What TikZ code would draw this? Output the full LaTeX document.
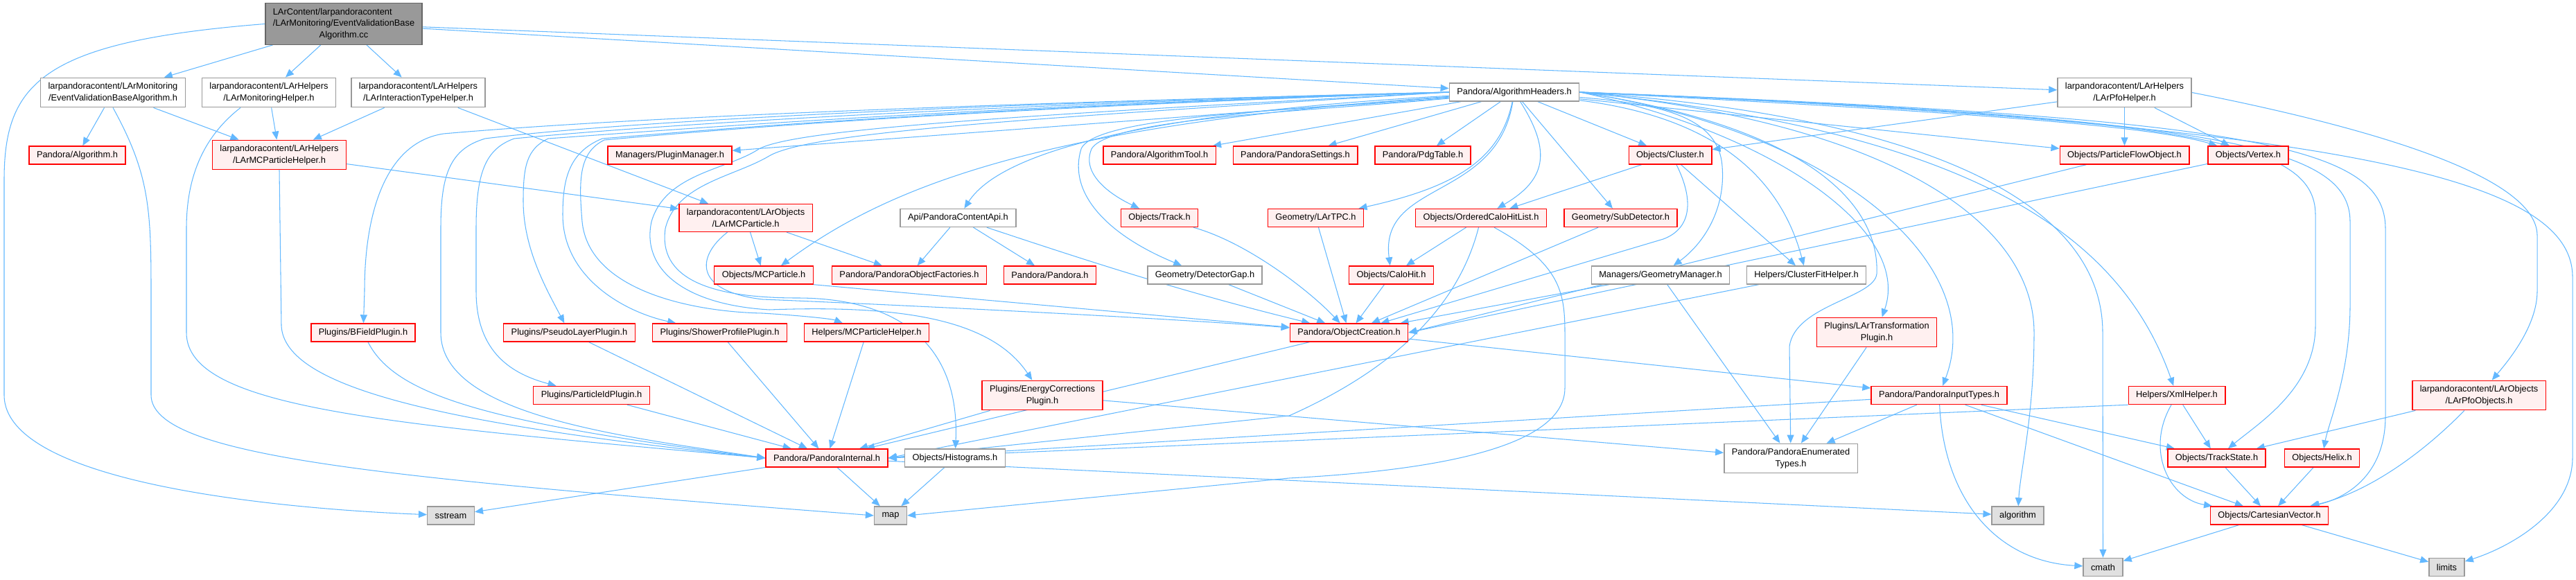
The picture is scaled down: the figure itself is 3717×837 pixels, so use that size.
\documentclass[tikz,border=0pt]{standalone}
\usepackage{fontspec}
\setmainfont{Liberation Sans}
\usetikzlibrary{arrows.meta,backgrounds}
\definecolor{edgeblue}{HTML}{63B8FF}
\definecolor{boxred}{HTML}{FF0000}
\definecolor{boxpink}{HTML}{FFF0F0}
\definecolor{boxgray}{HTML}{999999}
\definecolor{extgray}{HTML}{E0E0E0}
\definecolor{rootgray}{HTML}{999999}
\definecolor{rootedge}{HTML}{666666}

\begin{document}
\begin{tikzpicture}[x=0.02cm, y=-0.02cm,
	every node/.style={font=\fontsize{7.3}{9.4}\selectfont, inner xsep=0.22cm, inner ysep=0.14cm, minimum height=0.52cm, align=center, line width=0.8pt},
	redbox/.style={draw=boxred, fill=boxpink},
	plainbox/.style={draw=boxgray, fill=white},
	extbox/.style={draw=boxgray, fill=extgray},
	rootbox/.style={draw=rootedge, fill=rootgray, inner ysep=0.1cm},
	dep/.style={draw=edgeblue, line width=0.6pt, -{Triangle[length=0.24cm, width=0.2cm]}}]
	\useasboundingbox (0,0) rectangle (3717,837);
	\node[rootbox] (main) at (496,34.5) {\begin{tabular}{@{}l@{}}LArContent/larpandoracontent\\/LArMonitoring/EventValidationBase\\\multicolumn{1}{@{}c@{}}{Algorithm.cc}\end{tabular}};
	\node[plainbox] (evba) at (163,133.5) {larpandoracontent/LArMonitoring\\/EventValidationBaseAlgorithm.h};
	\node[plainbox] (monh) at (388,133.5) {larpandoracontent/LArHelpers\\/LArMonitoringHelper.h};
	\node[plainbox] (ith) at (603.5,133.5) {larpandoracontent/LArHelpers\\/LArInteractionTypeHelper.h};
	\node[redbox] (alg) at (111.5,224) {Pandora/Algorithm.h};
	\node[redbox] (mcph) at (403,223.5) {larpandoracontent/LArHelpers\\/LArMCParticleHelper.h};
	\node[redbox] (bfield) at (524,480) {Plugins/BFieldPlugin.h};
	\node[extbox] (sstream) at (650.5,744) {sstream};
	\node[redbox] (plugman) at (966.5,224) {Managers/PluginManager.h};
	\node[redbox] (larmcp) at (1076,314.5) {larpandoracontent/LArObjects\\/LArMCParticle.h};
	\node[redbox] (mcp) at (1102,397) {Objects/MCParticle.h};
	\node[redbox] (pof) at (1312,397) {Pandora/PandoraObjectFactories.h};
	\node[redbox] (pseudo) at (821.5,480) {Plugins/PseudoLayerPlugin.h};
	\node[redbox] (shower) at (1038.5,480) {Plugins/ShowerProfilePlugin.h};
	\node[redbox] (mcph2) at (1250.5,480) {Helpers/MCParticleHelper.h};
	\node[redbox] (pid) at (853.5,570.5) {Plugins/ParticleIdPlugin.h};
	\node[redbox] (pint) at (1193,661) {Pandora/PandoraInternal.h};
	\node[redbox] (algtool) at (1673,224) {Pandora/AlgorithmTool.h};
	\node[redbox] (settings) at (1869,224) {Pandora/PandoraSettings.h};
	\node[plainbox] (api) at (1382.5,314.5) {Api/PandoraContentApi.h};
	\node[redbox] (track) at (1673,314.5) {Objects/Track.h};
	\node[redbox] (tpc) at (1898.5,314.5) {Geometry/LArTPC.h};
	\node[redbox] (pandora) at (1515,397) {Pandora/Pandora.h};
	\node[plainbox] (gap) at (1738.5,397) {Geometry/DetectorGap.h};
	\node[redbox] (ecorr) at (1504,570.5) {Plugins/EnergyCorrections\\Plugin.h};
	\node[plainbox] (hist) at (1378,661) {Objects/Histograms.h};
	\node[extbox] (map) at (1285,744) {map};
	\node[redbox] (objcr) at (1946.5,480) {Pandora/ObjectCreation.h};
	\node[plainbox] (ah) at (2185,133) {Pandora/AlgorithmHeaders.h};
	\node[redbox] (pdg) at (2053,224) {Pandora/PdgTable.h};
	\node[redbox] (cluster) at (2410,224) {Objects/Cluster.h};
	\node[redbox] (ochl) at (2137,314.5) {Objects/OrderedCaloHitList.h};
	\node[redbox] (subdet) at (2338.5,314.5) {Geometry/SubDetector.h};
	\node[redbox] (calohit) at (2007.5,397) {Objects/CaloHit.h};
	\node[plainbox] (geoman) at (2396,397) {Managers/GeometryManager.h};
	\node[plainbox] (enumt) at (2584,661.5) {Pandora/PandoraEnumerated\\Types.h};
	\node[plainbox] (pfohelp) at (3065.5,133.5) {larpandoracontent/LArHelpers\\/LArPfoHelper.h};
	\node[redbox] (pfo) at (3065.5,224) {Objects/ParticleFlowObject.h};
	\node[plainbox] (cfh) at (2606.5,397) {Helpers/ClusterFitHelper.h};
	\node[redbox] (lartrans) at (2708,479.5) {Plugins/LArTransformation\\Plugin.h};
	\node[redbox] (pit) at (2798,570.5) {Pandora/PandoraInputTypes.h};
	\node[extbox] (algo) at (2911.5,744) {algorithm};
	\node[extbox] (cmath) at (3034.5,818.5) {cmath};
	\node[redbox] (xml) at (3141,570.5) {Helpers/XmlHelper.h};
	\node[redbox] (vertex) at (3244,224) {Objects/Vertex.h};
	\node[redbox] (pfoobj) at (3577,570.5) {larpandoracontent/LArObjects\\/LArPfoObjects.h};
	\node[redbox] (trackstate) at (3198.5,661) {Objects/TrackState.h};
	\node[redbox] (helix) at (3350.5,661) {Objects/Helix.h};
	\node[redbox] (cv) at (3274.5,744) {Objects/CartesianVector.h};
	\node[extbox] (limits) at (3530.5,818.5) {limits};

	\begin{scope}[on background layer]
	\draw[dep] (main) -- (evba);
	\draw[dep] (main) -- (monh);
	\draw[dep] (main) -- (ith);
	\draw[dep] (main) -- (ah);
	\draw[dep] (main) -- (pfohelp);
	\draw[dep] (main.west) .. controls (60,60) and (6,120) .. (6,260) -- (6,570) .. controls (6,700) and (420,735) .. (sstream);
	\draw[dep] (evba) -- (alg);
	\draw[dep] (evba) -- (mcph);
	\draw[dep] (evba.south) .. controls (215,250) and (218,300) .. (218,420) -- (218,570) .. controls (218,660) and (560,690) .. (map.west);
	\draw[dep] (monh) -- (mcph);
	\draw[dep] ([xshift=-0.82cm]monh.south) .. controls (290,200) and (269,260) .. (269,330) -- (269,480) .. controls (269,590) and (560,612) .. (pint.west);
	\draw[dep] (ith) -- (mcph);
	\draw[dep] (ith) -- (larmcp);
	\draw[dep] (mcph) -- (larmcp);
	\draw[dep] (mcph.south) -- (406,470) .. controls (410,560) and (640,612) .. (pint.west);
	\draw[dep] (larmcp) -- (mcp);
	\draw[dep] (larmcp) -- (pof);
	\draw[dep] (larmcp) .. controls (1005,370) and (1000,420) .. (1100,432) .. controls (1300,440) and (1700,460) .. (objcr);
	\draw[dep] (mcp.south east) -- (objcr);
	\draw[dep] (api) -- (pof);
	\draw[dep] (api) -- (pandora);
	\draw[dep] (api) .. controls (1550,370) and (1700,420) .. (objcr);
	\draw[dep] (bfield) .. controls (570,570) and (700,610) .. (pint.west);
	\draw[dep] (pseudo) -- (pint);
	\draw[dep] (shower) -- (pint);
	\draw[dep] (pid) -- (pint);
	\draw[dep] (mcph2) -- (pint);
	\draw[dep] (ecorr) -- (pint);
	\draw[dep] (ecorr) -- (enumt);
	\draw[dep] (hist) -- (map);
	\draw[dep] (pint) -- (sstream);
	\draw[dep] (pint) -- (map);
	\draw[dep] (pint) -- (algo);
	\draw[dep] (objcr) -- (pint);
	\draw[dep] (objcr) -- (pit);
	\draw[dep] (track) .. controls (1800,350) and (1890,420) .. (objcr);
	\draw[dep] (gap) -- (objcr);
	\draw[dep] (tpc) -- (objcr);
	\draw[dep] (calohit) -- (objcr);
	\draw[dep] (subdet) -- (objcr);
	\draw[dep] ([xshift=0.18cm]cluster.south) .. controls (2445,290) and (2440,330) .. (2400,345) -- (objcr);
	\draw[dep] (geoman) -- (objcr);
	\draw[dep] (pfo) -- (objcr.east);
	\draw[dep] (vertex) -- (objcr.east);
	\draw[dep] (ochl) -- (calohit);
	\draw[dep] (ochl) .. controls (2110,420) and (2040,520) .. (1860,600) -- (pint.east);
	\draw[dep] ([xshift=0.38cm]ochl.south) .. controls (2250,380) and (2258,420) .. (2258,480) -- (2258,560) .. controls (2258,650) and (2050,680) .. (1860,690) -- (map.east);
	\draw[dep] (cluster) -- (ochl);
	\draw[dep] (cluster) -- (cfh);
	\draw[dep] (geoman) -- (enumt);
	\draw[dep] (cfh) -- (pint.east);
	\draw[dep] (lartrans) -- (enumt);
	\draw[dep] (pit) -- (enumt);
	\draw[dep] (pit) .. controls (2805,720) and (2880,810) .. (cmath);
	\draw[dep] (pit) -- (trackstate);
	\draw[dep] (pit) -- (cv);
	\draw[dep] (pit) -- (pint.east);
	\draw[dep] (xml) -- (trackstate);
	\draw[dep] (xml) .. controls (3095,650) and (3130,720) .. (cv);
	\draw[dep] (xml.south west) -- (pint.east);
	\draw[dep] (pfohelp) -- (cluster);
	\draw[dep] (pfohelp) -- (pfo);
	\draw[dep] (pfohelp) -- (vertex);
	\draw[dep] (pfohelp.east) .. controls (3450,190) and (3661,260) .. (3661,340) -- (3661,420) .. controls (3661,470) and (3620,520) .. (pfoobj);
	\draw[dep] (pfoobj) -- (trackstate);
	\draw[dep] (pfoobj) .. controls (3500,650) and (3420,710) .. (cv);
	\draw[dep] (trackstate) -- (cv);
	\draw[dep] (helix) -- (cv);
	\draw[dep] (cv) -- (cmath);
	\draw[dep] (cv) -- (limits);
	\draw[dep] (ah) -- (plugman);
	\draw[dep] (ah) -- (algtool);
	\draw[dep] (ah) -- (settings);
	\draw[dep] (ah) -- (pdg);
	\draw[dep] (ah) -- (cluster);
	\draw[dep] (ah) -- (subdet);
	\draw[dep] (ah) -- (pfo);
	\draw[dep] (ah.east) .. controls (2800,160) and (3100,180) .. (vertex);
	\draw[dep] (ah) .. controls (1700,160) and (1450,210) .. (api);
	\draw[dep] (ah) .. controls (1900,160) and (1600,170) .. (1575,215) .. controls (1560,250) and (1600,280) .. (track);
	\draw[dep] (ah) .. controls (1900,158) and (1580,165) .. (1560,215) .. controls (1540,280) and (1600,340) .. (gap);
	\draw[dep] (ah) .. controls (2165,230) and (2100,270) .. (tpc);
	\draw[dep] (ah) .. controls (2160,290) and (1990,260) .. (calohit);
	\draw[dep] (ah) .. controls (2240,220) and (2230,260) .. (ochl);
	\draw[dep] (ah) .. controls (2400,150) and (2480,170) .. (2485,240) .. controls (2490,300) and (2460,350) .. (geoman);
	\draw[dep] (ah) .. controls (2480,170) and (2570,260) .. (cfh);
	\draw[dep] (ah) .. controls (1500,180) and (1280,270) .. ([xshift=0.5cm]mcp.north);
	\draw[dep] (ah.west) .. controls (1500,170) and (1170,190) .. (1110,225) .. controls (1060,255) and (975,265) .. (960,330) .. controls (950,400) and (1020,430) .. (1150,430) .. controls (1300,430) and (1385,500) .. (hist);
	\draw[dep] (ah.west) .. controls (1500,165) and (1150,185) .. (1095,215) .. controls (1050,245) and (960,250) .. (940,320) .. controls (925,390) and (990,440) .. (1110,447) .. controls (1300,440) and (1430,460) .. (ecorr);
	\draw[dep] (ah.west) .. controls (1400,157) and (1050,186) .. (872,202) .. controls (835,220) and (835,260) .. (840,320) .. controls (850,420) and (1000,450) .. (1100,452) .. controls (1150,455) and (1200,460) .. (mcph2);
	\draw[dep] (ah.west) .. controls (1400,156) and (1050,185) .. (869,200) .. controls (820,220) and (812,260) .. (812,310) .. controls (812,400) and (900,450) .. (shower);
	\draw[dep] (ah.west) .. controls (1400,154) and (1000,185) .. (791,200) .. controls (760,215) and (755,240) .. (755,290) .. controls (755,360) and (790,420) .. (pseudo);
	\draw[dep] (ah.west) .. controls (1400,152) and (950,180) .. (742,200) .. controls (700,215) and (687,250) .. (687,330) -- (687,420) .. controls (687,510) and (740,540) .. (pid);
	\draw[dep] (ah.west) .. controls (1400,150) and (900,175) .. (700,200) .. controls (650,215) and (636,250) .. (636,330) -- (636,480) .. controls (636,600) and (900,630) .. (pint.west);
	\draw[dep] (ah.west) .. controls (1400,150) and (900,170) .. (640,193) .. controls (560,205) and (526,300) .. (526,420) -- (bfield);
	\draw[dep] (ah.east) .. controls (2550,190) and (2760,330) .. (lartrans);
	\draw[dep] (ah.east) .. controls (2650,190) and (2870,380) .. (pit);
	\draw[dep] (ah.east) .. controls (2620,185) and (2712,300) .. (2708,395) .. controls (2705,430) and (2590,440) .. (2582,500) -- (enumt);
	\draw[dep] (ah.east) .. controls (2750,180) and (2935,330) .. (2935,480) .. controls (2935,600) and (2915,680) .. (algo);
	\draw[dep] (ah.east) .. controls (2800,170) and (3034,300) .. (3034,480) -- (cmath);
	\draw[dep] (ah.east) .. controls (2850,190) and (3060,340) .. (xml);
	\draw[dep] (ah.east) .. controls (3150,170) and (3341,200) .. (3341,310) -- (3341,470) .. controls (3341,560) and (3260,610) .. (trackstate);
	\draw[dep] (ah.east) .. controls (3200,170) and (3391,210) .. (3391,320) -- (3391,440) .. controls (3391,540) and (3360,610) .. (helix);
	\draw[dep] (ah.east) .. controls (3250,170) and (3442,210) .. (3442,330) -- (3442,600) .. controls (3442,690) and (3380,720) .. (cv);
	\draw[dep] (ah.east) .. controls (3400,180) and (3712,260) .. (3712,400) -- (3712,660) .. controls (3712,740) and (3620,790) .. (limits);
	\end{scope}
\end{tikzpicture}
\end{document}
